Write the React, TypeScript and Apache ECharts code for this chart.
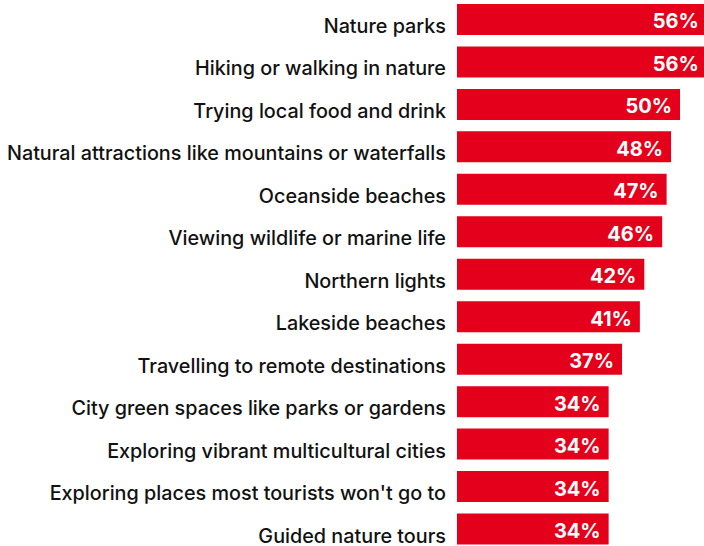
import React, { useEffect, useRef } from "react";
import * as echarts from "echarts";

const categories = [
  "Nature parks",
  "Hiking or walking in nature",
  "Trying local food and drink",
  "Natural attractions like mountains or waterfalls",
  "Oceanside beaches",
  "Viewing wildlife or marine life",
  "Northern lights",
  "Lakeside beaches",
  "Travelling to remote destinations",
  "City green spaces like parks or gardens",
  "Exploring vibrant multicultural cities",
  "Exploring places most tourists won't go to",
  "Guided nature tours",
];
const values = [56, 56, 50, 48, 47, 46, 42, 41, 37, 34, 34, 34, 34];

export default function App() {
  const ref = useRef<HTMLDivElement>(null);
  useEffect(() => {
    if (!ref.current) return;
    const chart = echarts.init(ref.current, null, { renderer: "svg" });
    chart.setOption({
      animation: false,
      grid: {
        left: 457,
        top: -1.75,
        width: 60 * 4.46,
        height: 552,
        containLabel: false,
        outerBoundsMode: "none",
      },
      xAxis: { type: "value", min: 0, max: 60, show: false },
      yAxis: {
        type: "category",
        inverse: true,
        data: categories,
        axisLine: { show: false },
        axisTick: { show: false },
        axisLabel: {
          margin: 11,
          color: "#111",
          fontFamily: "Inter",
          fontWeight: 500,
          fontSize: 19.8,
          verticalAlign: "top",
          lineHeight: 13,
        },
      },
      series: [
        {
          type: "bar",
          data: values,
          barWidth: 31,
          itemStyle: { color: "#e4001b" },
          label: {
            show: true,
            position: "insideRight",
            distance: 8,
            offset: [0, 2],
            formatter: "{c}%",
            color: "#fff",
            fontFamily: "Inter",
            fontWeight: "bold",
            fontSize: 20,
          },
        },
      ],
    });
    return () => chart.dispose();
  }, []);
  return (
    <div
      ref={ref}
      style={{ position: "fixed", left: 0, top: 0, width: 704, height: 546, background: "#fff" }}
    />
  );
}
